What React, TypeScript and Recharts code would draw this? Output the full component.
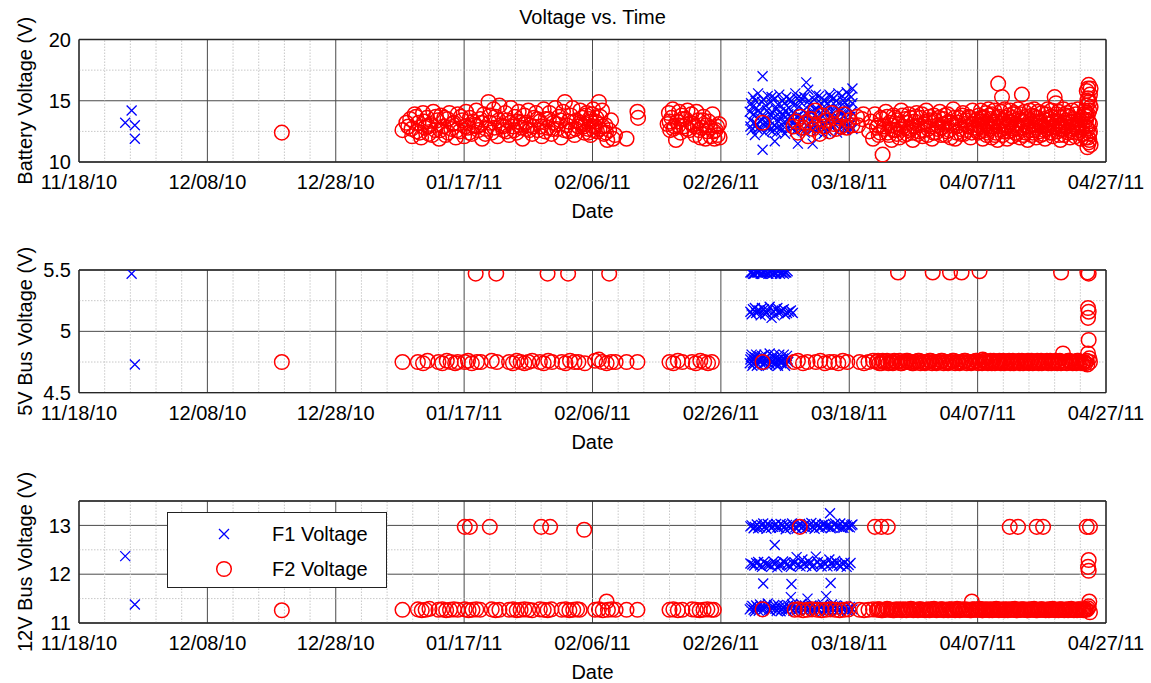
import React from 'react';
import { ScatterChart, Scatter, XAxis, YAxis, CartesianGrid, ReferenceLine, Legend } from 'recharts';

type Pair = [number, number];

const FONT = '"Liberation Sans", Arial, Helvetica, sans-serif';
const W = 1151;

const chartTitle = 'Voltage vs. Time';
const xAxisLabel = 'Date';
const seriesNames = ['F1 Voltage', 'F2 Voltage'];

// x axis: days since 11/18/10
const xTickDays = [0, 20, 40, 60, 80, 100, 120, 140, 160];
const xTickLabels = ['11/18/10', '12/08/10', '12/28/10', '01/17/11', '02/06/11', '02/26/11', '03/18/11', '04/07/11', '04/27/11'];
const xMinorDays = [4, 8, 12, 16, 24, 28, 32, 36, 44, 48, 52, 56, 64, 68, 72, 76, 84, 88, 92, 96, 104, 108, 112, 116, 124, 128, 132, 136, 144, 148, 152, 156];

const batteryTicks = [10, 15, 20];
const batteryMinor = [12.5, 17.5];
const bus5Ticks = [4.5, 5, 5.5];
const bus5Minor = [4.75, 5.25];
const bus12Ticks = [11, 12, 13];
const bus12Minor = [11.5, 12.5];

// ---------- Battery voltage ----------
const f1Battery: Pair[] = [
  [7.2, 13.2], [8.2, 14.2], [8.7, 13.0], [8.7, 11.9],
  [104.6, 13.4], [104.7, 14.8], [104.8, 12.6], [105.0, 15.3], [105.1, 13.9], [105.3, 12.2], [105.5, 14.4], [105.6, 13.1],
  [105.8, 15.6], [106.0, 12.8], [106.1, 14.0], [106.3, 13.5], [106.5, 17.0], [106.5, 11.0], [106.6, 15.1], [106.8, 12.4],
  [107.0, 14.6], [107.1, 13.2], [107.3, 15.4], [107.5, 12.9], [107.6, 13.9], [107.8, 14.9], [108.0, 12.5], [108.2, 13.6],
  [108.4, 11.7], [108.4, 15.2], [108.6, 14.3], [108.8, 12.8], [109.0, 13.3], [109.1, 15.5], [109.3, 14.1], [109.5, 12.6],
  [109.7, 13.8], [109.9, 14.8], [110.0, 12.3], [110.2, 15.3], [110.4, 13.5], [110.6, 14.4], [110.8, 12.9], [111.0, 15.0],
  [111.1, 13.2], [111.3, 14.0], [111.5, 12.5], [111.6, 15.6], [111.8, 13.7], [112.0, 11.5], [112.1, 14.5], [112.3, 12.8],
  [112.5, 15.2], [112.7, 13.4], [112.9, 14.2], [113.1, 12.4], [113.3, 16.5], [113.4, 13.9], [113.6, 15.9], [113.8, 14.7],
  [114.0, 12.7], [114.2, 13.3], [114.3, 11.5], [114.5, 15.1], [114.7, 14.3], [114.9, 12.5], [115.1, 13.6], [115.3, 15.4],
  [115.4, 12.9], [115.6, 14.8], [115.8, 13.1], [116.0, 12.3], [116.2, 15.0], [116.3, 14.0], [116.5, 13.4], [116.7, 12.6],
  [116.9, 15.5], [117.0, 14.5], [117.2, 13.0], [117.4, 12.8], [117.6, 15.2], [117.7, 13.7], [117.9, 14.6], [118.1, 12.4],
  [118.3, 15.6], [118.4, 13.3], [118.6, 14.2], [118.8, 12.9], [119.0, 15.0], [119.1, 13.8], [119.3, 14.9], [119.5, 12.6],
  [119.6, 15.7], [119.8, 13.5], [120.0, 14.4], [120.1, 13.0], [120.3, 15.3], [120.4, 14.1], [120.5, 16.0], [120.5, 12.7],
  [104.5, 14.1], [104.6, 12.9], [104.9, 14.5], [105.2, 13.2], [105.4, 15.0], [105.7, 12.7], [105.9, 14.2], [106.2, 13.3],
  [106.4, 14.9], [106.7, 13.7], [106.9, 12.9], [107.2, 14.2], [107.4, 13.5], [107.7, 12.6], [107.9, 15.3], [108.1, 14.0],
  [108.3, 13.0], [108.7, 12.4], [108.9, 14.7], [109.2, 13.7], [109.4, 12.8], [109.6, 15.0], [109.8, 13.2], [110.1, 14.2],
  [110.3, 12.6], [110.5, 13.9], [110.7, 15.1], [110.9, 13.6], [111.2, 12.8], [111.4, 14.6], [111.7, 13.0], [111.9, 15.2],
  [112.2, 13.8], [112.4, 14.9], [112.6, 12.6], [112.8, 13.6], [113.0, 15.3], [113.2, 14.0], [113.5, 12.9], [113.7, 15.0],
  [113.9, 13.3], [114.1, 14.1], [114.4, 12.7], [114.6, 13.8], [114.8, 15.5], [115.0, 14.3], [115.2, 12.6], [115.5, 13.5],
  [115.7, 15.2], [115.9, 14.2], [116.1, 13.0], [116.4, 12.5], [116.6, 14.8], [116.8, 13.6], [117.1, 15.3], [117.3, 14.1],
  [117.5, 12.9], [117.8, 13.5], [118.0, 15.0], [118.2, 14.3], [118.5, 12.7], [118.7, 13.9], [118.9, 15.4], [119.2, 13.1],
  [119.4, 14.5], [119.7, 13.0], [119.9, 15.5], [120.2, 13.7], [120.4, 12.8], [120.5, 14.8],
];

const f2Battery: Pair[] = [
  [31.6, 12.4],
  [50.4, 12.6], [51.3, 12.9], [51.6, 13.5], [51.9, 12.1], [52.3, 13.9], [52.6, 12.5], [52.9, 13.2], [53.3, 12.0],
  [53.6, 14.0], [53.9, 12.8], [54.2, 13.6], [54.5, 12.3], [54.8, 13.1], [55.2, 14.1], [55.5, 12.6], [55.8, 13.4],
  [56.1, 11.9], [56.4, 13.8], [56.8, 12.9], [57.1, 12.2], [57.4, 13.5], [57.7, 14.0], [58.0, 12.7], [58.4, 13.2],
  [58.7, 12.0], [59.0, 13.9], [59.3, 12.5], [59.7, 13.4], [60.0, 12.1], [60.3, 14.1], [60.6, 12.8], [60.9, 13.6],
  [61.2, 12.3], [61.6, 13.0], [61.9, 14.2], [62.2, 12.6], [62.5, 13.5], [62.8, 11.9], [63.1, 13.9], [63.4, 12.7],
  [63.8, 14.9], [64.0, 13.2], [64.3, 12.4], [64.6, 14.3], [64.9, 13.7], [65.2, 12.1], [65.5, 14.6], [65.8, 13.0],
  [66.1, 12.6], [66.4, 14.0], [66.7, 13.4], [67.0, 12.2], [67.3, 14.4], [67.6, 12.9], [67.9, 13.7], [68.2, 12.4],
  [68.5, 14.1], [68.8, 13.2], [69.1, 11.9], [69.4, 13.8], [69.7, 12.7], [70.0, 14.2], [70.3, 13.0], [70.6, 12.3],
  [70.9, 13.6], [71.2, 14.0], [71.5, 12.6], [71.8, 13.3],
  [72.1, 12.1], [72.4, 14.3], [72.7, 13.5], [73.0, 12.8], [73.3, 14.0], [73.6, 12.3], [73.9, 13.2], [74.2, 14.4],
  [74.5, 12.7], [74.8, 13.7], [75.1, 12.0], [75.4, 14.1], [75.7, 14.9], [76.0, 13.0], [76.3, 12.5], [76.6, 13.8],
  [76.9, 14.4], [77.2, 12.2], [77.5, 13.4], [77.8, 12.9], [78.1, 14.2], [78.4, 13.6], [78.7, 12.4], [78.9, 13.1],
  [79.1, 14.0], [79.3, 12.7], [79.5, 13.5], [79.7, 12.2], [79.9, 13.9], [80.1, 14.3], [80.3, 12.9], [80.5, 13.3],
  [80.7, 12.5], [81.0, 14.9], [81.2, 13.7], [81.5, 14.2], [81.8, 12.3], [82.0, 13.0], [82.3, 11.8], [82.6, 12.6],
  [82.9, 13.4], [83.2, 11.9], [83.5, 12.2],
  [85.3, 11.9], [87.0, 14.1], [87.1, 13.6],
  [91.7, 13.1], [91.9, 14.0], [92.1, 12.6], [92.3, 13.6], [92.5, 14.3], [92.8, 12.9], [93.0, 11.8], [93.2, 13.3],
  [93.5, 14.1], [93.7, 12.4], [93.9, 13.8], [94.2, 12.9], [94.5, 13.5], [94.8, 14.2], [95.1, 12.6], [95.4, 13.9],
  [95.7, 13.1], [96.0, 12.2], [96.2, 14.1], [96.5, 13.4], [96.8, 12.0], [97.0, 12.8], [97.3, 13.7], [97.6, 11.9],
  [97.9, 12.5], [98.1, 13.3], [98.4, 12.1], [98.7, 13.9], [99.0, 11.9], [99.2, 12.6], [99.5, 12.2], [99.7, 13.1],
  [51.0, 13.2], [51.8, 12.7], [52.5, 13.7], [53.1, 12.4], [53.8, 13.3], [54.4, 12.9], [55.0, 12.2], [55.6, 13.7],
  [56.3, 12.6], [56.9, 13.6], [57.5, 12.4], [58.2, 13.1], [58.9, 12.6], [59.5, 13.7], [60.2, 12.9], [60.8, 12.4],
  [61.4, 13.3], [62.0, 12.9], [62.7, 13.2], [63.3, 12.3], [64.1, 13.8], [64.7, 12.8], [65.4, 13.4], [66.0, 12.9],
  [66.6, 12.5], [67.2, 13.2], [67.8, 12.6], [68.4, 13.3], [69.0, 12.8], [69.6, 13.2], [70.2, 12.6], [70.8, 12.9],
  [71.4, 13.5], [72.0, 12.9], [72.6, 12.5], [73.2, 13.5], [73.8, 12.7], [74.4, 13.1], [75.0, 13.4], [75.6, 12.6],
  [76.2, 13.3], [76.8, 12.6], [77.4, 12.7], [78.0, 13.2], [78.6, 12.9], [79.0, 13.8], [79.4, 12.4], [79.8, 13.3],
  [80.2, 12.6], [80.6, 13.6], [81.1, 12.7], [81.6, 12.9], [82.1, 12.4], [92.0, 13.3], [92.6, 12.7], [93.4, 13.0],
  [94.0, 13.5], [94.7, 12.7], [95.3, 13.2], [96.0, 12.9], [96.6, 12.6], [97.2, 13.4], [97.8, 13.0], [98.3, 12.8],
  [98.9, 12.5], [99.4, 12.9], [99.8, 12.0],
  [106.5, 13.2],
  [111.3, 12.9], [111.7, 13.3], [112.0, 12.4], [112.4, 13.7], [112.8, 12.8], [113.2, 13.2], [113.6, 12.1], [114.0, 13.5],
  [114.3, 12.7], [114.7, 14.2], [115.0, 13.0], [115.4, 12.3], [115.8, 13.8], [116.1, 12.9], [116.5, 13.4], [116.9, 12.5],
  [117.3, 14.0], [117.6, 13.1], [118.0, 12.7], [118.4, 13.6], [118.8, 12.9], [119.2, 13.9], [119.6, 12.8], [120.0, 13.4],
  [120.5, 13.0], [121.2, 13.7], [121.4, 13.0], [122.0, 13.5], [122.2, 13.9],
  [123.1, 12.5], [123.4, 13.3], [123.7, 11.9], [124.0, 13.9], [124.3, 12.8], [124.6, 12.2], [124.9, 13.6], [125.2, 10.6],
  [125.4, 12.9], [125.7, 14.1], [126.0, 12.4], [126.3, 13.2], [126.6, 11.8], [126.9, 13.8], [127.2, 12.6], [127.5, 13.4],
  [127.8, 12.0], [128.1, 14.2], [128.4, 12.9], [128.7, 13.5], [129.0, 12.3], [129.3, 13.9], [129.6, 12.7], [129.9, 11.8],
  [130.2, 13.3],
  [130.5, 14.0], [130.8, 12.5], [131.1, 13.6], [131.4, 12.1], [131.7, 13.1], [132.0, 14.2], [132.3, 12.7], [132.6, 13.4],
  [132.9, 11.9], [133.2, 13.8], [133.5, 12.4], [133.8, 13.0], [134.1, 14.1], [134.4, 12.8], [134.7, 13.5], [135.0, 12.2],
  [135.3, 13.9], [135.6, 12.6], [135.9, 13.2], [136.2, 14.3], [136.5, 11.9], [136.8, 12.9], [137.1, 13.6], [137.4, 12.3],
  [137.7, 14.0], [138.0, 13.1], [138.3, 12.6], [138.6, 13.7], [138.9, 12.0], [139.2, 14.2], [139.5, 12.8], [139.8, 13.4],
  [140.1, 12.4], [140.2, 13.8], [140.4, 12.9], [140.5, 14.2], [140.7, 13.3], [140.8, 11.9], [141.0, 13.6], [141.1, 12.6],
  [141.3, 14.0], [141.4, 12.2], [141.6, 13.1], [141.7, 14.3], [141.9, 12.7], [142.0, 13.5], [142.2, 12.0], [142.3, 13.9],
  [142.5, 12.9], [142.6, 14.2], [142.8, 12.4], [142.9, 13.3], [143.1, 11.8], [143.2, 16.4], [143.3, 13.7], [143.5, 12.6],
  [143.6, 14.1], [143.8, 15.3], [143.9, 12.2], [144.0, 13.4], [144.2, 14.3], [144.3, 12.8], [144.5, 13.0], [144.6, 11.9],
  [144.8, 13.8], [144.9, 12.5], [145.1, 14.2], [145.2, 13.2], [145.4, 12.1], [145.5, 13.6], [145.7, 14.0], [145.8, 12.7],
  [146.0, 13.1], [146.1, 12.3], [146.3, 14.3], [146.4, 13.5], [146.6, 12.0], [146.7, 13.9], [146.9, 15.5], [147.0, 12.8],
  [147.2, 13.3], [147.3, 14.1], [147.5, 12.4], [147.6, 13.7], [147.8, 11.8], [147.9, 12.9], [148.1, 14.2], [148.2, 13.4],
  [148.4, 12.2], [148.5, 13.8], [148.7, 12.6], [148.8, 14.3], [149.0, 13.0], [149.1, 12.0], [149.3, 13.6], [149.4, 14.1],
  [149.6, 12.5], [149.7, 13.2], [149.9, 12.9], [150.0, 14.0], [150.2, 12.3], [150.3, 13.5], [150.5, 11.9], [150.6, 13.9],
  [150.8, 12.7], [150.9, 14.3], [151.1, 13.1], [151.2, 12.4], [151.4, 13.7], [151.5, 14.2], [151.7, 12.1], [151.8, 13.3],
  [152.0, 15.3], [152.1, 12.8], [152.2, 14.8], [152.3, 13.9], [152.5, 12.5], [152.6, 14.1], [152.8, 13.0], [152.9, 11.8],
  [153.1, 13.6], [153.2, 12.6], [153.4, 14.3], [153.5, 12.2], [153.7, 13.4], [153.8, 12.9], [154.0, 14.0], [154.1, 12.4],
  [154.3, 13.7], [154.4, 12.0], [154.6, 13.2], [154.7, 14.2], [154.9, 12.7], [155.0, 13.5], [155.2, 12.1], [155.3, 13.9],
  [155.5, 12.8], [155.6, 14.3], [155.8, 12.4], [155.9, 13.1], [156.1, 11.9], [156.2, 13.6],
  [124.5, 13.0], [124.8, 12.4], [125.1, 13.5], [125.5, 12.7], [125.9, 13.7], [126.2, 12.2], [126.5, 13.0], [126.8, 12.6],
  [127.1, 13.6], [127.4, 12.3], [127.7, 13.1], [128.0, 12.7], [128.3, 13.8], [128.6, 12.2], [128.9, 13.2], [129.2, 12.6],
  [129.5, 13.6], [129.8, 12.4], [130.1, 12.9], [130.4, 13.7], [130.7, 12.3], [131.0, 13.0], [131.3, 13.9], [131.6, 12.6],
  [131.9, 13.3], [132.2, 12.2], [132.5, 13.7], [132.8, 12.9], [133.1, 12.4], [133.4, 13.4], [133.7, 12.7], [134.0, 13.6],
  [134.3, 12.2], [134.6, 13.1], [134.9, 13.8], [135.2, 12.5], [135.5, 13.3], [135.8, 12.0], [136.1, 13.0], [136.4, 13.6],
  [136.7, 12.4], [137.0, 13.2], [137.3, 12.7], [137.6, 13.8], [137.9, 12.3], [138.2, 13.4], [138.5, 12.9], [138.8, 13.6],
  [139.1, 12.4], [139.4, 13.1], [139.7, 12.6], [140.0, 13.5],
  [140.15, 13.0], [140.35, 12.5], [140.6, 13.6], [140.9, 12.8], [141.2, 13.3], [141.5, 12.4], [141.8, 13.8], [142.1, 12.9],
  [142.4, 13.2], [142.7, 12.2], [143.0, 13.6], [143.4, 12.9], [143.7, 13.1], [144.1, 12.5], [144.4, 13.6], [144.7, 12.9],
  [145.0, 13.3], [145.3, 12.6], [145.6, 13.9], [145.9, 12.4], [146.2, 13.0], [146.5, 12.7], [146.8, 13.4], [147.1, 12.2],
  [147.4, 13.0], [147.7, 13.5], [148.0, 12.6], [148.3, 13.1], [148.6, 12.4], [148.9, 13.7], [149.2, 12.8], [149.5, 13.3],
  [149.8, 12.2], [150.1, 13.0], [150.4, 12.6], [150.7, 13.4], [151.0, 12.8], [151.3, 13.5], [151.6, 12.4], [151.9, 12.9],
  [152.4, 13.3], [152.7, 12.2], [153.0, 13.0], [153.3, 12.7], [153.6, 13.2], [153.9, 13.8], [154.2, 12.6], [154.5, 13.3],
  [154.8, 12.9], [155.1, 12.4], [155.4, 13.0], [155.7, 12.6], [156.0, 13.4], [156.3, 12.8], [156.5, 12.3], [156.6, 13.9],
  [156.7, 14.2],
  [156.8, 12.0], [156.9, 13.4], [157.0, 14.6], [157.0, 15.8], [157.1, 11.2], [157.1, 12.7], [157.2, 13.9], [157.2, 15.2],
  [157.3, 16.3], [157.3, 11.6], [157.4, 12.3], [157.4, 14.2], [157.5, 15.5], [157.5, 13.1], [157.6, 16.0], [157.6, 11.4],
  [157.4, 14.9], [157.2, 12.0], [157.0, 13.7], [156.9, 12.9], [156.9, 14.0], [157.1, 15.0], [157.3, 13.3], [157.5, 12.5],
  [157.6, 14.5], [157.2, 16.0], [157.4, 11.8],
];

// ---------- 5V bus ----------
const f1Bus5: Pair[] = [
  [8.2, 5.47], [8.7, 4.73],
  [104.6, 5.48], [105.0, 5.47], [105.4, 5.49], [105.8, 5.48], [106.2, 5.47], [106.6, 5.48], [107.0, 5.49], [107.4, 5.47],
  [107.8, 5.48], [108.2, 5.48], [108.6, 5.47], [109.0, 5.49], [109.4, 5.48], [109.8, 5.47], [110.2, 5.48], [110.4, 5.49],
  [104.8, 5.48], [105.2, 5.47], [105.6, 5.48], [106.0, 5.49], [106.4, 5.47], [106.8, 5.48], [107.2, 5.48], [107.6, 5.49],
  [108.0, 5.47], [108.4, 5.48], [108.8, 5.49], [109.2, 5.47], [109.6, 5.48], [110.0, 5.48],
  [104.6, 5.16], [105.0, 5.18], [105.5, 5.15], [106.0, 5.17], [106.4, 5.19], [106.9, 5.14], [107.3, 5.17], [107.6, 5.20],
  [107.9, 5.11], [108.2, 5.16], [108.6, 5.18], [109.0, 5.15], [109.5, 5.17], [110.0, 5.14], [110.6, 5.16], [111.2, 5.15],
  [104.8, 5.14], [105.3, 5.19], [105.7, 5.17], [106.2, 5.13], [106.7, 5.18], [107.1, 5.15], [108.4, 5.13], [108.8, 5.19],
  [109.2, 5.16], [109.8, 5.18], [110.3, 5.15], [110.9, 5.17],
  [104.5, 4.74], [104.7, 4.79], [104.9, 4.72], [105.2, 4.77], [105.5, 4.81], [105.8, 4.73], [106.1, 4.76], [106.4, 4.80],
  [106.7, 4.74], [107.0, 4.78], [107.3, 4.72], [107.6, 4.82], [107.9, 4.75], [108.2, 4.79], [108.5, 4.73], [108.8, 4.77],
  [109.1, 4.81], [109.4, 4.74], [109.7, 4.78], [110.0, 4.72], [110.3, 4.80], [110.5, 4.75],
  [104.6, 4.77], [104.8, 4.81], [105.0, 4.74], [105.3, 4.79], [105.6, 4.72], [105.9, 4.76], [106.2, 4.79], [106.5, 4.73],
  [106.8, 4.81], [107.1, 4.75], [107.4, 4.78], [107.7, 4.73], [108.0, 4.76], [108.3, 4.81], [108.6, 4.75], [108.9, 4.72],
  [109.2, 4.78], [109.5, 4.76], [109.8, 4.81], [110.1, 4.74], [110.4, 4.77],
];

const f2Bus5: Pair[] = [
  [31.6, 4.75],
  [50.4, 4.75], [52.8, 4.75], [53.6, 4.74], [54.3, 4.76], [56.0, 4.75], [56.6, 4.74], [57.3, 4.76], [57.9, 4.75],
  [58.6, 4.74], [59.0, 4.75], [60.1, 4.75], [60.6, 4.76], [61.2, 4.74], [61.8, 5.47], [62.0, 4.75], [62.6, 4.75],
  [64.3, 4.76], [65.0, 5.47], [65.1, 4.75], [67.0, 4.75], [67.6, 4.74], [68.2, 4.76], [68.8, 4.75], [69.4, 4.74],
  [70.0, 4.75], [70.6, 4.76], [71.8, 4.75], [72.4, 4.74], [73.0, 5.47], [73.1, 4.76], [73.7, 4.75], [75.2, 4.75],
  [75.8, 4.74], [76.2, 5.47], [76.5, 4.76], [77.2, 4.75], [77.8, 4.75], [78.8, 4.74], [80.4, 4.76], [81.0, 4.77],
  [81.5, 4.75], [82.2, 4.74], [82.6, 5.47], [82.9, 4.75], [83.6, 4.75], [85.3, 4.75], [87.0, 4.75],
  [92.0, 4.75], [92.6, 4.74], [93.3, 4.76], [94.0, 4.75], [95.5, 4.75], [96.1, 4.74], [96.8, 4.76], [97.4, 4.75],
  [98.0, 4.74], [98.6, 4.75],
  [106.5, 4.75],
  [111.4, 4.75], [112.0, 4.76], [112.8, 4.74], [113.5, 4.75], [114.8, 4.75], [115.5, 4.76], [116.2, 4.74], [116.9, 4.75],
  [117.6, 4.75], [118.3, 4.74], [119.0, 4.76], [119.7, 4.75], [121.6, 4.75], [122.3, 4.74], [123.0, 4.75], [123.7, 4.76],
  [124.3, 4.75], [124.7, 4.74], [125.2, 4.76], [125.7, 4.75], [126.1, 4.74], [126.6, 4.75], [127.0, 4.76], [127.5, 4.75],
  [127.6, 5.48], [128.0, 4.74], [128.4, 4.75], [128.9, 4.76], [129.3, 4.75], [129.8, 4.74], [130.2, 4.75], [130.7, 4.76],
  [131.1, 4.74], [131.6, 4.75], [132.0, 4.75], [132.5, 4.76], [132.9, 4.74], [133.0, 5.48], [133.4, 4.75], [133.8, 4.75],
  [134.3, 4.76], [134.7, 4.74], [135.2, 4.75], [135.6, 4.75], [135.7, 5.48], [136.1, 4.76], [136.5, 4.74], [137.0, 4.75],
  [137.4, 4.75], [137.5, 5.48], [137.9, 4.76], [138.3, 4.74], [138.8, 4.75], [139.2, 4.75], [139.7, 4.76], [140.1, 4.74],
  [140.3, 5.49], [140.5, 4.75], [140.8, 4.77], [141.2, 4.75], [141.6, 4.74], [142.0, 4.76], [142.3, 4.75], [142.7, 4.74],
  [143.1, 4.75], [143.4, 4.76], [143.8, 4.75], [144.2, 4.74], [144.5, 4.75], [144.9, 4.76], [145.3, 4.75], [145.6, 4.74],
  [146.0, 4.75], [146.4, 4.76], [146.7, 4.75], [147.1, 4.74], [147.5, 4.75], [147.8, 4.76], [148.2, 4.75], [148.6, 4.74],
  [148.9, 4.75], [149.3, 4.76], [149.7, 4.75], [150.0, 4.74], [150.4, 4.75], [150.8, 4.76], [151.1, 4.75], [151.5, 4.74],
  [151.9, 4.75], [152.2, 4.76], [152.6, 4.75], [153.0, 5.48], [153.0, 4.74], [153.3, 4.82], [153.7, 4.75], [154.1, 4.76],
  [154.4, 4.75], [154.8, 4.74], [155.2, 4.75], [155.5, 4.76], [155.9, 4.75], [156.3, 4.74], [156.6, 4.75], [157.0, 4.76],
  [124.5, 4.76], [125.0, 4.74], [125.4, 4.75], [125.9, 4.76], [126.4, 4.75], [126.8, 4.74], [127.3, 4.75], [127.8, 4.76],
  [128.2, 4.74], [128.7, 4.75], [129.1, 4.76], [129.6, 4.75], [130.0, 4.74], [130.5, 4.75], [130.9, 4.76], [131.4, 4.75],
  [131.8, 4.74], [132.3, 4.75], [132.7, 4.76], [133.2, 4.75], [133.6, 4.74], [134.1, 4.75], [134.5, 4.76], [135.0, 4.75],
  [135.4, 4.74], [135.9, 4.75], [136.3, 4.76], [136.8, 4.75], [137.2, 4.74], [137.7, 4.75], [138.1, 4.76], [138.6, 4.75],
  [139.0, 4.74], [139.5, 4.75], [139.9, 4.76], [140.3, 4.75], [140.7, 4.74], [141.0, 4.76], [141.4, 4.75], [141.8, 4.75],
  [142.2, 4.74], [142.5, 4.76], [142.9, 4.75], [143.3, 4.75], [143.6, 4.74], [144.0, 4.76], [144.4, 4.75], [144.7, 4.75],
  [145.1, 4.74], [145.5, 4.76], [145.8, 4.75], [146.2, 4.75], [146.6, 4.74], [146.9, 4.76], [147.3, 4.75], [147.7, 4.75],
  [148.0, 4.74], [148.4, 4.76], [148.8, 4.75], [149.1, 4.75], [149.5, 4.74], [149.9, 4.76], [150.2, 4.75], [150.6, 4.75],
  [151.0, 4.74], [151.3, 4.76], [151.7, 4.75], [152.1, 4.75], [152.4, 4.74], [152.8, 4.76], [153.2, 4.75], [153.5, 4.75],
  [153.9, 4.74], [154.3, 4.76], [154.6, 4.75], [155.0, 4.75], [155.4, 4.74], [155.7, 4.76], [156.1, 4.75], [156.5, 4.75],
  [156.8, 4.74],
  [157.1, 5.48], [157.3, 5.47], [157.2, 5.19], [157.3, 5.16], [157.2, 5.11], [157.3, 4.93], [157.2, 4.82], [157.4, 4.78],
  [157.5, 4.75], [157.1, 4.73],
];

// ---------- 12V bus ----------
const f1Bus12: Pair[] = [
  [7.2, 12.37], [8.7, 11.38],
  [104.6, 12.98], [105.1, 12.94], [105.6, 13.02], [106.1, 12.96], [106.6, 13.04], [107.1, 12.93], [107.6, 13.0], [108.1, 12.97],
  [108.6, 13.03], [109.1, 12.95], [109.6, 13.01], [110.1, 12.92], [110.6, 12.99], [111.1, 13.04], [111.6, 12.96], [112.1, 13.0],
  [112.6, 12.94], [113.1, 13.02], [113.6, 12.97], [114.1, 13.05], [114.6, 12.93], [115.1, 13.0], [115.6, 12.96], [116.1, 13.03],
  [116.6, 12.98], [117.0, 13.25], [117.1, 12.94], [117.6, 13.01], [118.1, 12.97], [118.6, 13.04], [119.1, 12.95], [119.6, 13.0],
  [120.1, 12.96], [120.5, 13.02],
  [104.8, 13.0], [105.3, 12.97], [105.8, 12.94], [106.3, 13.01], [106.8, 12.97], [107.3, 13.03], [107.8, 12.95], [108.3, 13.0],
  [108.8, 12.96], [109.3, 13.03], [109.8, 12.97], [110.3, 13.01], [110.8, 12.95], [111.3, 13.0], [111.8, 12.93], [112.3, 13.03],
  [112.8, 12.98], [113.3, 12.95], [113.8, 13.01], [114.3, 12.97], [114.8, 13.03], [115.3, 12.95], [115.8, 13.01], [116.3, 12.97],
  [116.8, 13.0], [117.3, 12.96], [117.8, 13.04], [118.3, 12.99], [118.8, 12.95], [119.3, 13.02], [119.8, 12.97], [120.3, 13.0],
  [108.4, 12.6],
  [104.6, 12.22], [105.2, 12.18], [105.8, 12.25], [106.4, 12.15], [107.0, 12.21], [107.6, 12.19], [108.2, 12.26], [108.8, 12.14],
  [109.4, 12.2], [110.0, 12.24], [110.6, 12.17], [111.2, 12.22], [111.8, 12.35], [112.4, 12.16], [113.0, 12.21], [113.6, 12.27],
  [114.2, 12.15], [114.8, 12.36], [115.4, 12.19], [116.0, 12.24], [116.6, 12.16], [117.2, 12.22], [117.8, 12.27], [118.4, 12.18],
  [119.0, 12.21], [119.6, 12.15], [120.2, 12.23],
  [104.9, 12.2], [105.5, 12.23], [106.1, 12.18], [106.7, 12.25], [107.3, 12.2], [107.9, 12.16], [108.5, 12.22], [109.1, 12.19],
  [109.7, 12.26], [110.3, 12.2], [110.9, 12.15], [111.5, 12.24], [112.1, 12.19], [112.7, 12.3], [113.3, 12.17], [113.9, 12.22],
  [114.5, 12.19], [115.1, 12.25], [115.7, 12.16], [116.3, 12.21], [116.9, 12.3], [117.5, 12.18], [118.1, 12.22], [118.7, 12.16],
  [119.3, 12.24], [119.9, 12.19],
  [106.6, 11.81], [111.0, 11.8], [117.1, 11.82], [110.9, 11.53], [113.5, 11.5], [116.4, 11.55],
  [104.5, 11.28], [104.9, 11.35], [105.3, 11.24], [105.7, 11.32], [106.1, 11.38], [106.5, 11.26], [106.9, 11.31], [107.3, 11.4],
  [107.7, 11.25], [108.1, 11.33], [108.5, 11.29], [108.9, 11.37], [109.3, 11.24], [109.7, 11.31], [110.1, 11.27], [110.5, 11.36],
  [110.9, 11.3], [111.3, 11.25], [111.7, 11.34], [112.1, 11.28], [112.5, 11.39], [112.9, 11.26], [113.3, 11.32], [113.7, 11.29],
  [114.1, 11.36], [114.5, 11.24], [114.9, 11.31], [115.3, 11.28], [115.7, 11.35], [116.1, 11.26], [116.5, 11.33], [116.9, 11.29],
  [117.3, 11.38], [117.7, 11.25], [118.1, 11.31], [118.5, 11.27], [118.9, 11.34], [119.3, 11.3], [119.7, 11.25], [120.1, 11.33],
  [120.5, 11.28],
  [104.7, 11.31], [105.1, 11.27], [105.5, 11.36], [105.9, 11.25], [106.3, 11.33], [106.7, 11.29], [107.1, 11.35], [107.5, 11.27],
  [107.9, 11.3], [108.3, 11.37], [108.7, 11.25], [109.1, 11.32], [109.5, 11.28], [109.9, 11.35], [110.3, 11.24], [110.7, 11.31],
  [111.1, 11.38], [111.5, 11.29], [111.9, 11.26], [112.3, 11.33], [112.7, 11.3], [113.1, 11.36], [113.5, 11.25], [113.9, 11.31],
  [114.3, 11.29], [114.7, 11.34], [115.1, 11.26], [115.5, 11.32], [115.9, 11.38], [116.3, 11.28], [116.7, 11.25], [117.1, 11.33],
  [117.5, 11.3], [117.9, 11.36], [118.3, 11.26], [118.7, 11.31], [119.1, 11.28], [119.5, 11.35], [119.9, 11.27], [120.3, 11.31],
];

const f2Bus12: Pair[] = [
  [31.6, 11.26],
  [50.4, 11.27], [52.8, 11.28], [53.4, 11.26], [54.0, 11.27], [54.6, 11.29], [56.0, 11.27], [56.6, 11.28], [57.2, 11.26],
  [57.8, 11.27], [58.4, 11.28], [59.0, 11.27], [60.1, 11.28], [60.1, 12.97], [60.7, 11.26], [60.9, 12.97], [61.3, 11.27],
  [61.9, 11.28], [62.5, 11.27], [64.0, 12.97], [64.3, 11.28], [64.9, 11.26], [65.5, 11.27], [67.0, 11.27], [67.6, 11.28],
  [68.2, 11.26], [68.8, 11.27], [69.4, 11.28], [70.0, 11.27], [70.6, 11.26], [71.8, 11.28], [72.0, 12.97], [72.4, 11.27],
  [73.0, 11.26], [73.4, 12.97], [73.6, 11.28], [75.2, 11.27], [75.8, 11.28], [76.4, 11.26], [77.0, 11.27], [77.6, 11.28],
  [78.0, 11.27], [78.7, 12.91], [80.4, 11.27], [81.0, 11.28], [81.6, 11.26], [82.2, 11.44], [82.4, 11.27], [83.0, 11.28],
  [83.6, 11.27], [85.3, 11.27], [87.0, 11.27],
  [92.0, 11.27], [92.6, 11.28], [93.3, 11.26], [94.0, 11.27], [95.5, 11.28], [96.1, 11.27], [96.7, 11.26], [97.3, 11.27],
  [97.9, 11.28], [98.5, 11.27], [98.9, 11.27],
  [106.5, 11.28],
  [111.5, 11.27], [112.1, 11.28], [112.3, 12.97], [112.8, 11.26], [113.5, 11.27], [114.2, 11.28], [115.0, 11.27], [115.7, 11.26],
  [116.4, 11.27], [117.1, 11.28], [117.8, 11.27], [118.5, 11.26], [119.2, 11.27], [119.9, 11.28], [121.6, 11.27], [122.3, 11.26],
  [123.0, 11.27], [123.7, 11.28], [124.0, 12.97], [125.0, 12.97], [126.0, 12.97],
  [124.3, 11.27], [124.7, 11.28], [125.2, 11.26], [125.7, 11.27], [126.1, 11.28], [126.6, 11.27], [127.0, 11.26], [127.5, 11.27],
  [128.0, 11.28], [128.4, 11.27], [128.9, 11.26], [129.3, 11.27], [129.8, 11.28], [130.2, 11.27], [130.7, 11.26], [131.1, 11.28],
  [131.6, 11.27], [132.0, 11.27], [132.5, 11.26], [132.9, 11.28], [133.4, 11.27], [133.8, 11.27], [134.3, 11.28], [134.7, 11.26],
  [135.2, 11.27], [135.6, 11.28], [136.1, 11.27], [136.5, 11.26], [137.0, 11.27], [137.4, 11.28], [137.9, 11.27], [138.3, 11.27],
  [138.8, 11.26], [139.1, 11.44], [139.2, 11.28], [139.7, 11.27], [140.1, 11.27], [140.5, 11.28], [140.8, 11.26], [141.2, 11.27],
  [141.6, 11.28], [142.0, 11.27], [142.3, 11.26], [142.7, 11.27], [143.1, 11.28], [143.4, 11.27], [143.8, 11.27], [144.2, 11.26],
  [144.5, 11.28], [144.9, 11.27], [145.0, 12.97], [145.3, 11.27], [145.6, 11.28], [146.0, 11.26], [146.3, 12.97], [146.4, 11.27],
  [146.7, 11.27], [147.1, 11.28], [147.5, 11.27], [147.8, 11.26], [148.2, 11.27], [148.6, 11.28], [148.9, 11.27], [149.2, 12.97],
  [149.3, 11.26], [149.7, 11.27], [150.0, 11.28], [150.2, 12.97], [150.4, 11.27], [150.8, 11.27], [151.1, 11.26], [151.5, 11.28],
  [151.9, 11.27], [152.2, 11.27], [152.6, 11.26], [153.0, 11.28], [153.3, 11.27], [153.7, 11.27], [154.1, 11.26], [154.4, 11.28],
  [154.8, 11.27], [155.2, 11.27], [155.5, 11.26], [155.9, 11.28], [156.3, 11.27], [156.6, 11.27],
  [124.5, 11.28], [125.0, 11.26], [125.4, 11.27], [125.9, 11.29], [126.4, 11.27], [126.8, 11.26], [127.3, 11.28], [127.8, 11.27],
  [128.2, 11.26], [128.7, 11.28], [129.1, 11.27], [129.6, 11.29], [130.0, 11.26], [130.5, 11.27], [130.9, 11.28], [131.4, 11.27],
  [131.8, 11.26], [132.3, 11.28], [132.7, 11.27], [133.2, 11.29], [133.6, 11.26], [134.1, 11.27], [134.5, 11.28], [135.0, 11.27],
  [135.4, 11.26], [135.9, 11.28], [136.3, 11.27], [136.8, 11.29], [137.2, 11.26], [137.7, 11.27], [138.1, 11.28], [138.6, 11.27],
  [139.0, 11.26], [139.5, 11.28], [139.9, 11.27], [140.3, 11.29], [140.7, 11.26], [141.0, 11.28], [141.4, 11.27], [141.8, 11.26],
  [142.2, 11.28], [142.5, 11.27], [142.9, 11.29], [143.3, 11.26], [143.6, 11.27], [144.0, 11.28], [144.4, 11.27], [144.7, 11.26],
  [145.1, 11.28], [145.5, 11.27], [145.8, 11.29], [146.2, 11.26], [146.6, 11.27], [146.9, 11.28], [147.3, 11.27], [147.7, 11.26],
  [148.0, 11.28], [148.4, 11.27], [148.8, 11.29], [149.1, 11.26], [149.5, 11.27], [149.9, 11.28], [150.2, 11.27], [150.6, 11.26],
  [151.0, 11.28], [151.3, 11.27], [151.7, 11.29], [152.1, 11.26], [152.4, 11.27], [152.8, 11.28], [153.2, 11.27], [153.5, 11.26],
  [153.9, 11.28], [154.3, 11.27], [154.6, 11.29], [155.0, 11.26], [155.4, 11.27], [155.7, 11.28], [156.1, 11.27], [156.5, 11.26],
  [156.8, 11.28],
  [157.0, 12.97], [157.5, 12.97], [157.3, 12.29], [157.2, 12.15], [157.3, 12.07], [157.4, 11.44], [157.0, 11.27], [157.3, 11.34],
  [157.5, 11.22], [157.2, 11.3],
];

// ---------- marks ----------
const CrossMark = (props: any) => {
  const { cx, cy } = props;
  if (cx == null || cy == null) return null;
  const s = 5;
  return (
    <path
      d={`M${cx - s},${cy - s}L${cx + s},${cy + s}M${cx - s},${cy + s}L${cx + s},${cy - s}`}
      stroke="#0000ff"
      strokeWidth={1.3}
      fill="none"
    />
  );
};

const CircleMark = (props: any) => {
  const { cx, cy } = props;
  if (cx == null || cy == null) return null;
  return <circle cx={cx} cy={cy} r={7.3} stroke="#ff0000" strokeWidth={1.5} fill="none" />;
};

const LegendBox = (props: any) => {
  const payload = props.payload || [];
  return (
    <div
      style={{
        width: 220,
        height: 76,
        boxSizing: 'border-box',
        border: '1px solid #222',
        background: '#fff',
        position: 'relative',
        fontFamily: FONT,
        fontSize: 20,
        color: '#000',
      }}
    >
      {payload.map((p: any, i: number) => (
        <div key={p.value} style={{ position: 'absolute', left: 0, top: 6 + i * 35, height: 30, width: 218 }}>
          <svg width={30} height={30} style={{ position: 'absolute', left: 41, top: 0 }}>
            {p.type === 'cross' ? (
              <path d="M10,10L20,20M10,20L20,10" stroke="#0000ff" strokeWidth={1.3} fill="none" />
            ) : (
              <circle cx={15} cy={15} r={7.3} stroke="#ff0000" strokeWidth={1.5} fill="none" />
            )}
          </svg>
          <span style={{ position: 'absolute', left: 104, top: 0, lineHeight: '30px', whiteSpace: 'nowrap' }}>{p.value}</span>
        </div>
      ))}
    </div>
  );
};

interface PanelProps {
  top: number;
  height: number;
  plotTop: number;
  plotBottom: number;
  f1: Pair[];
  f2: Pair[];
  yDomain: [number, number];
  yTicks: number[];
  yMinor: number[];
  yLabel: string;
  legend?: boolean;
}

const MINOR = '#c8c8c8';
const MAJOR = '#4a4a4a';
const BOX = '#262626';

function Panel(p: PanelProps) {
  const d1 = p.f1.map(([day, v]) => ({ day, v }));
  const d2 = p.f2.map(([day, v]) => ({ day, v }));
  const renderDate = (lp: any) => {
    const vb = lp.viewBox || {};
    return (
      <text x={vb.x + vb.width / 2} y={vb.y + 56} textAnchor="middle" fontSize={20} fontFamily={FONT} fill="#000">
        {xAxisLabel}
      </text>
    );
  };
  const renderY = (lp: any) => {
    const vb = lp.viewBox || {};
    const cx = vb.x + 10;
    const cy = vb.y + vb.height / 2;
    return (
      <text
        x={cx}
        y={cy}
        transform={`rotate(-90 ${cx} ${cy})`}
        textAnchor="middle"
        dominantBaseline="central"
        fontSize={20}
        fontFamily={FONT}
        fill="#000"
      >
        {p.yLabel}
      </text>
    );
  };
  return (
    <div style={{ position: 'absolute', left: 0, top: p.top }}>
      <ScatterChart
        width={W}
        height={p.height}
        margin={{ top: p.plotTop, right: 45, bottom: p.height - p.plotBottom - 60, left: 15 }}
      >
        {xMinorDays.map((d) => (
          <ReferenceLine key={'mx' + d} x={d} stroke={MINOR} strokeDasharray="1.5 1.5" strokeWidth={1} zIndex={-50} />
        ))}
        {p.yMinor.map((v) => (
          <ReferenceLine key={'my' + v} y={v} stroke={MINOR} strokeDasharray="1.5 1.5" strokeWidth={1} zIndex={-50} />
        ))}
        <CartesianGrid stroke={MAJOR} strokeWidth={1} />
        <XAxis
          dataKey="day"
          type="number"
          domain={[0, 160]}
          ticks={xTickDays}
          interval={0}
          tickFormatter={(d: number) => xTickLabels[xTickDays.indexOf(d)]}
          tick={{ fontSize: 20, fill: '#000', fontFamily: FONT }}
          tickLine={false}
          axisLine={false}
          tickSize={0}
          tickMargin={13}
          height={60}
          label={renderDate}
        />
        <YAxis
          dataKey="v"
          type="number"
          domain={p.yDomain}
          ticks={p.yTicks}
          interval={0}
          allowDataOverflow
          tick={{ fontSize: 20, fill: '#000', fontFamily: FONT }}
          tickLine={false}
          axisLine={false}
          tickSize={0}
          tickMargin={8}
          width={64}
          label={renderY}
        />
        <ReferenceLine x={0} stroke={BOX} strokeWidth={1.3} />
        <ReferenceLine x={160} stroke={BOX} strokeWidth={1.3} />
        <ReferenceLine y={p.yDomain[0]} stroke={BOX} strokeWidth={1.3} />
        <ReferenceLine y={p.yDomain[1]} stroke={BOX} strokeWidth={1.3} />
        <Scatter name={seriesNames[0]} data={d1} shape={CrossMark} fill="#0000ff" legendType="cross" isAnimationActive={false} />
        <Scatter name={seriesNames[1]} data={d2} shape={CircleMark} fill="#ff0000" legendType="circle" isAnimationActive={false} />
        {p.legend && (
          <Legend
            content={LegendBox}
            layout="vertical"
            align="center"
            verticalAlign="middle"
            wrapperStyle={{ position: 'absolute', left: 167, top: 52, width: 220, height: 76 }}
          />
        )}
      </ScatterChart>
    </div>
  );
}

export default function App() {
  return (
    <div style={{ position: 'absolute', left: 0, top: 0, width: W, height: 683, background: '#fff', fontFamily: FONT }}>
      <div
        style={{
          position: 'absolute',
          left: 79,
          width: 1027,
          top: 6,
          textAlign: 'center',
          fontSize: 20,
          color: '#000',
          lineHeight: 'normal',
        }}
      >
        {chartTitle}
      </div>
      <Panel
        top={0}
        height={230}
        plotTop={39.5}
        plotBottom={162}
        f1={f1Battery}
        f2={f2Battery}
        yDomain={[10, 20]}
        yTicks={batteryTicks}
        yMinor={batteryMinor}
        yLabel="Battery Voltage (V)"
      />
      <Panel
        top={230}
        height={230}
        plotTop={40}
        plotBottom={162.7}
        f1={f1Bus5}
        f2={f2Bus5}
        yDomain={[4.5, 5.5]}
        yTicks={bus5Ticks}
        yMinor={bus5Minor}
        yLabel="5V Bus Voltage (V)"
      />
      <Panel
        top={460}
        height={223}
        plotTop={41}
        plotBottom={163}
        f1={f1Bus12}
        f2={f2Bus12}
        yDomain={[11, 13.5]}
        yTicks={bus12Ticks}
        yMinor={bus12Minor}
        yLabel="12V Bus Voltage (V)"
        legend
      />
    </div>
  );
}
